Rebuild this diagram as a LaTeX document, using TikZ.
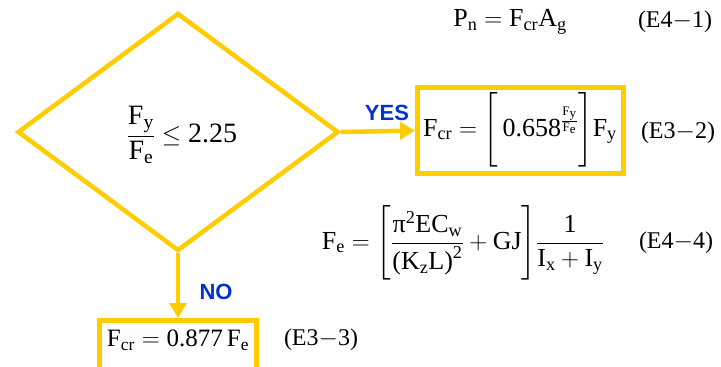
\documentclass[tikz,border=0pt]{standalone}
\usepackage{amsmath}
\usepackage{fontspec}
\setmainfont{Liberation Serif}
\setsansfont{Liberation Sans}
\usetikzlibrary{shapes.geometric,arrows.meta}
\definecolor{gold}{RGB}{255,204,0}
\definecolor{lblue}{RGB}{0,51,204}
\newcommand{\rmF}{\mathrm{F}}
\newcommand{\tx}[1]{\text{\rmfamily #1}}
\begin{document}
\begin{tikzpicture}[x=1pt,y=-1pt,
  eq/.style={font=\fontsize{26}{30}\selectfont, inner sep=0pt},
  tag/.style={font=\fontsize{24}{28}\selectfont, inner sep=0pt},
  goldbox/.style={draw=gold, line width=5pt, inner sep=0pt},
  arr/.style={draw=gold, line width=4.5pt, -{Triangle[length=15pt,width=17pt]}},
  ans/.style={font=\sffamily\bfseries\fontsize{22}{26}\selectfont, text=lblue, inner sep=0pt}]
\useasboundingbox (0,0) rectangle (721,367);
% decision
\node[diamond, draw=gold, line width=4.5pt, minimum width=321pt, minimum height=238pt, aspect=1.35, inner sep=0pt] (cond) at (178,132) {};
\node[eq, font=\fontsize{28}{32}\selectfont] (condtext) at (182,135) {$\dfrac{\rmF_{\mathrm{y}}}{\rmF_{\mathrm{e}}}\le \tx{2.25}$};
% yes box
\node[goldbox, minimum width=206pt, minimum height=86pt] (yesbox) at (520.5,130.5) {};
\node[eq] (yestext) at (520,130) {$\rmF_{\mathrm{cr}} = \Bigg[\,\tx{0.658}^{\frac{\rmF_{\mathrm{y}}}{\rmF_{\mathrm{e}}}}\Bigg]\rmF_{\mathrm{y}}$};
\node[tag] (tagA) at (678,133) {(E3$-$2)};
% no box
\node[goldbox, minimum width=157pt, minimum height=60pt] (nobox) at (178,350.5) {};
\node[eq, font=\fontsize{25}{28}\selectfont] (notext) at (178,340) {$\rmF_{\mathrm{cr}} = \tx{0.877}\,\rmF_{\mathrm{e}}$};
\node[tag] (tagB) at (321,340) {(E3$-$3)};
% arrows
\draw[arr] (cond.east) -- (yesbox.west);
\draw[arr] (cond.south) -- (nobox.north);
\node[ans] (yes) at (387,113) {YES};
\node[ans] (no) at (216,292) {NO};
% other equations
\node[eq] (pn) at (510,22) {$\mathrm{P}_{\mathrm{n}} = \rmF_{\mathrm{cr}}\mathrm{A}_{\mathrm{g}}$};
\node[tag] (tagC) at (675,22) {(E4$-$1)};
\node[eq] (fe) at (463,243) {$\rmF_{\mathrm{e}} = \Bigg[\dfrac{\mbox{π}^{\tx{2}}\mathrm{EC}_{\mathrm{w}}}{\tx{(}\mathrm{K}_{\mathrm{z}}\mathrm{L}\tx{)}^{\tx{2}}}+\mathrm{GJ}\Bigg]\dfrac{\tx{1}}{\mathrm{I}_{\mathrm{x}}+\mathrm{I}_{\mathrm{y}}}$};
\node[tag] (tagD) at (676,243) {(E4$-$4)};
\end{tikzpicture}
\end{document}
